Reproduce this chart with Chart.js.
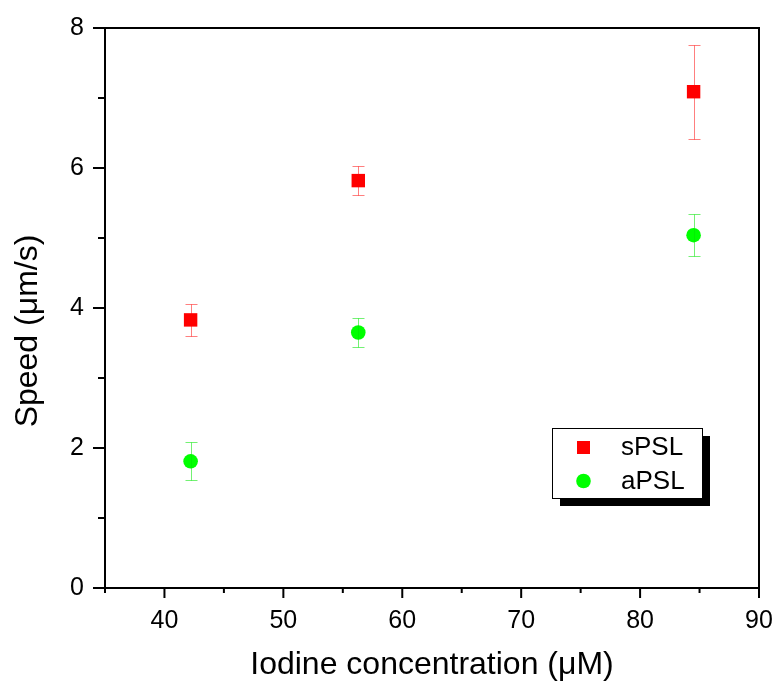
<!DOCTYPE html>
<html>
<head>
<meta charset="utf-8">
<script src="https://cdn.jsdelivr.net/npm/chart.js@4.4.0/dist/chart.umd.min.js"></script>
<style>
html,body{margin:0;padding:0;background:#fff;}
#wrap{width:774px;height:684px;}
</style>
</head>
<body>
<div id="wrap"><canvas id="c" width="774" height="684"></canvas></div>
<script>
const concentrations = [42.2, 56.3, 84.5];
const sPSL = [3.83, 5.82, 7.09];
const sPSLErr = [0.23, 0.21, 0.67];
const aPSL = [1.81, 3.65, 5.04];
const aPSLErr = [0.27, 0.21, 0.30];
const xTicks = [40, 50, 60, 70, 80, 90];
const yTicks = [0, 2, 4, 6, 8];
const seriesNames = ['sPSL', 'aPSL'];
const xTitle = 'Iodine concentration (μM)';
const yTitle = 'Speed (μm/s)';

const FONT = "'Liberation Sans', Arial, sans-serif";

function zeroPad(s) { s.paddingTop = 0; s.paddingBottom = 0; s.paddingLeft = 0; s.paddingRight = 0; }

const errorBarPlugin = {
  id: 'errorBars',
  afterDatasetsDraw(chart) {
    const ctx = chart.ctx;
    const xs = chart.scales.x, ys = chart.scales.y;
    chart.data.datasets.forEach((ds) => {
      ctx.save();
      ctx.strokeStyle = ds.errColor;
      ctx.lineWidth = 1;
      ds.data.forEach((p, i) => {
        const e = ds.errors[i];
        const px = Math.round(xs.getPixelForValue(p.x)) + 0.5;
        const yt = Math.round(ys.getPixelForValue(p.y + e)) + 0.5;
        const yb = Math.round(ys.getPixelForValue(p.y - e)) + 0.5;
        ctx.beginPath();
        ctx.moveTo(px, yt); ctx.lineTo(px, yb);
        ctx.moveTo(px - 6, yt); ctx.lineTo(px + 6, yt);
        ctx.moveTo(px - 6, yb); ctx.lineTo(px + 6, yb);
        ctx.stroke();
      });
      ctx.restore();
    });
  }
};

const framePlugin = {
  id: 'frame',
  afterDraw(chart) {
    const ctx = chart.ctx;
    const a = chart.chartArea;
    const xs = chart.scales.x, ys = chart.scales.y;
    ctx.save();
    ctx.strokeStyle = '#000';
    ctx.lineWidth = 2;
    ctx.strokeRect(a.left, a.top, a.right - a.left, a.bottom - a.top);
    ctx.beginPath();
    for (let v = 35; v <= 90; v += 5) {
      const px = xs.getPixelForValue(v);
      const len = (v % 10 === 0) ? 10 : 5;
      ctx.moveTo(px, a.bottom); ctx.lineTo(px, a.bottom + len);
    }
    for (let v = 0; v <= 8; v += 1) {
      const py = ys.getPixelForValue(v);
      const len = (v % 2 === 0) ? 12 : 7;
      ctx.moveTo(a.left, py); ctx.lineTo(a.left - len, py);
    }
    ctx.stroke();

    // y axis title
    ctx.save();
    ctx.translate(28, 331);
    ctx.rotate(-Math.PI / 2);
    ctx.fillStyle = '#000';
    ctx.font = '32px ' + FONT;
    ctx.textAlign = 'center';
    ctx.textBaseline = 'middle';
    ctx.fillText(yTitle, 0, 0);
    ctx.restore();

    // legend
    const bx = 552, by = 428, bw = 150, bh = 70;
    ctx.fillStyle = '#000';
    ctx.fillRect(bx + 8, by + 8, bw, bh);
    ctx.fillStyle = '#fff';
    ctx.fillRect(bx, by, bw, bh);
    ctx.lineWidth = 1;
    ctx.strokeStyle = '#000';
    ctx.strokeRect(bx + 0.5, by + 0.5, bw, bh);
    ctx.fillStyle = '#ff0000';
    ctx.fillRect(577, 441, 13, 13);
    ctx.fillStyle = '#00ff00';
    ctx.beginPath(); ctx.arc(583.5, 481, 7.3, 0, Math.PI * 2); ctx.fill();
    ctx.fillStyle = '#000';
    ctx.font = '26px ' + FONT;
    ctx.textBaseline = 'middle';
    ctx.textAlign = 'left';
    ctx.fillText(seriesNames[0], 621, 448);
    ctx.fillText(seriesNames[1], 621, 482);
    ctx.restore();
  }
};

new Chart(document.getElementById('c'), {
  type: 'scatter',
  data: {
    datasets: [
      {
        label: seriesNames[0],
        data: concentrations.map((x, i) => ({x: x, y: sPSL[i]})),
        errors: sPSLErr,
        errColor: 'rgba(255,0,0,0.5)',
        pointStyle: 'rect',
        pointRadius: 9.5,
        pointHoverRadius: 9.5,
        backgroundColor: '#ff0000',
        borderColor: '#ff0000',
        borderWidth: 0
      },
      {
        label: seriesNames[1],
        data: concentrations.map((x, i) => ({x: x, y: aPSL[i]})),
        errors: aPSLErr,
        errColor: 'rgba(0,230,0,0.55)',
        pointStyle: 'circle',
        pointRadius: 7.3,
        pointHoverRadius: 7.3,
        backgroundColor: '#00ff00',
        borderColor: '#00ff00',
        borderWidth: 0
      }
    ]
  },
  options: {
    responsive: false,
    animation: false,
    events: [],
    layout: {padding: {top: 28, right: 15, left: 0, bottom: 0}},
    plugins: {legend: {display: false}, tooltip: {enabled: false}},
    scales: {
      x: {
        type: 'linear',
        min: 35, max: 90,
        afterFit(s) { s.height = 96; zeroPad(s); },
        afterBuildTicks(s) { s.ticks = xTicks.map(v => ({value: v})); },
        grid: {display: true, drawOnChartArea: false, drawTicks: false},
        border: {display: false},
        ticks: {color: '#000', font: {size: 25, family: FONT}, padding: 18, autoSkip: false, maxRotation: 0},
        title: {display: true, text: xTitle, color: '#000', font: {size: 32, family: FONT}, padding: {top: 0, bottom: 0}}
      },
      y: {
        type: 'linear',
        min: 0, max: 8,
        afterFit(s) { s.width = 105; zeroPad(s); },
        afterBuildTicks(s) { s.ticks = yTicks.map(v => ({value: v})); },
        grid: {display: true, drawOnChartArea: false, drawTicks: false},
        border: {display: false},
        ticks: {color: '#000', font: {size: 25, family: FONT}, padding: 21, autoSkip: false},
        title: {display: false}
      }
    }
  },
  plugins: [errorBarPlugin, framePlugin]
});
</script>
</body>
</html>
